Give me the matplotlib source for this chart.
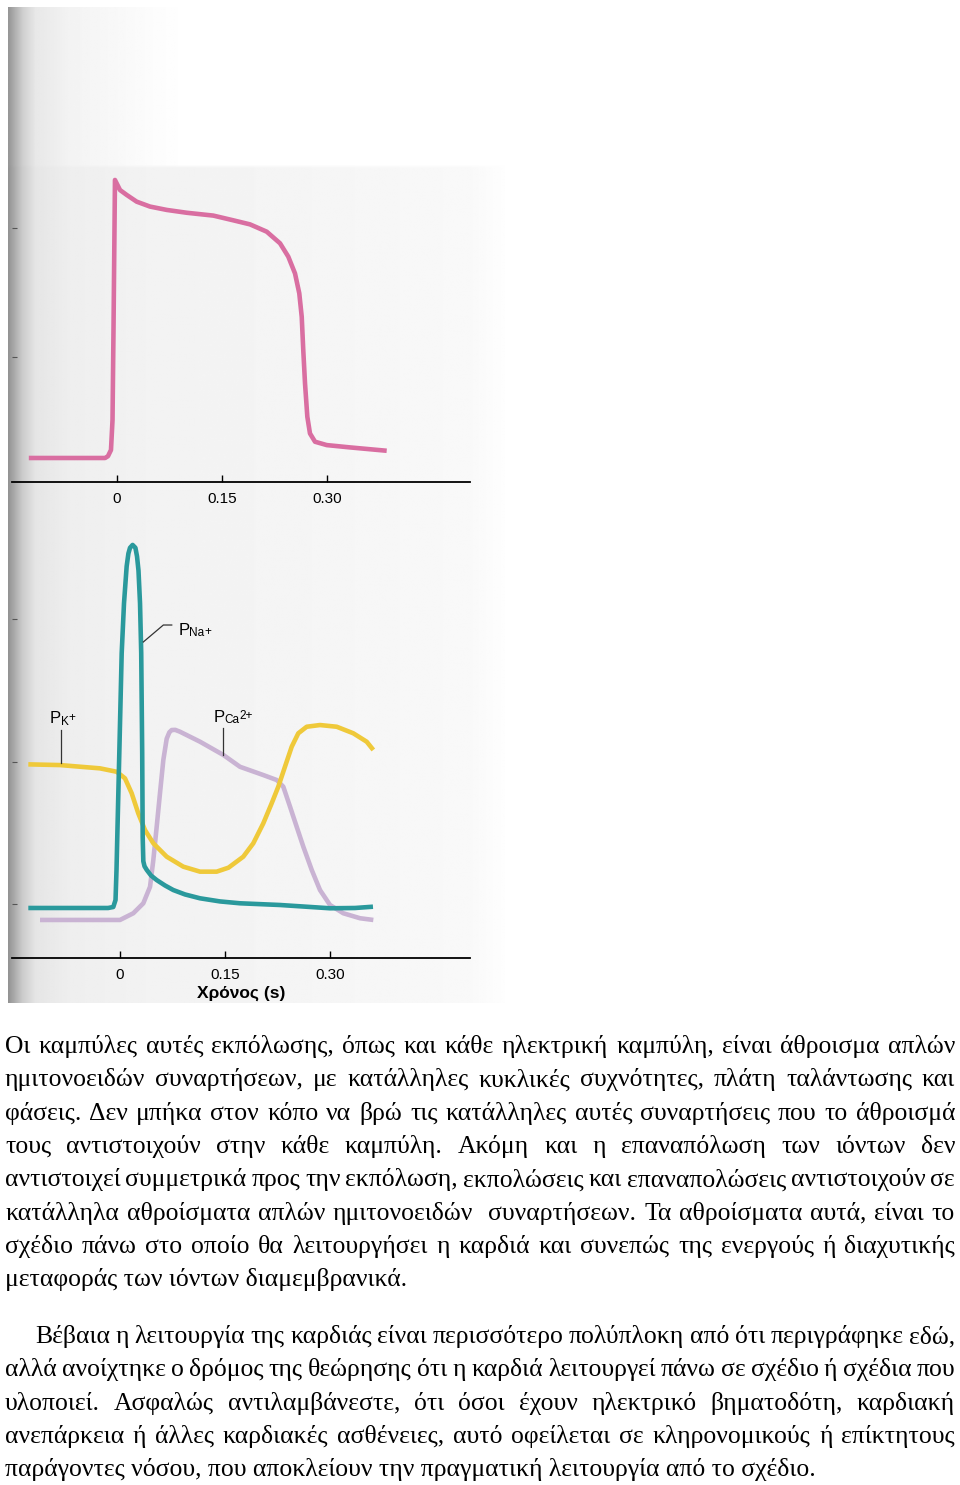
import numpy as np
import matplotlib
matplotlib.use('Agg')
import matplotlib.pyplot as plt

plt.rcParams['font.family'] = ['Liberation Sans', 'DejaVu Sans']

# action potential (top), time in s, membrane potential in mV
t_ap = [-0.126, -0.017, -0.0129, -0.0086, -0.0064, -0.005, -0.0036, -0.0029,
        0.0043, 0.0139, 0.0281, 0.0471, 0.071, 0.0996, 0.1376, 0.1657, 0.19,
        0.2139, 0.2329, 0.2447, 0.2543, 0.2604, 0.2639, 0.2661, 0.2686,
        0.2719, 0.2757, 0.2829, 0.2996, 0.3329, 0.3853]
v_ap = [-89.1, -89.1, -88.4, -86.0, -74.4, -39.5, -0.8, 18.6,
        14.7, 12.8, 10.2, 8.3, 7.0, 5.9, 4.8, 3.0, 1.4,
        -1.43, -5.93, -11.1, -17.6, -25.3, -34.4, -47.3, -60.2,
        -73.1, -79.6, -82.8, -84.1, -85.0, -86.3]

# membrane permeabilities (bottom), arbitrary units
t_na = [-0.131, -0.017, -0.0096, -0.0064, -0.005, -0.0039, -0.001, 0.0024,
        0.0057, 0.0095, 0.012, 0.0143, 0.018, 0.022, 0.0243, 0.0264, 0.0286,
        0.0303, 0.0317, 0.0324, 0.0333, 0.035, 0.0381, 0.0443, 0.0524,
        0.0643, 0.0761, 0.0929, 0.1143, 0.1429, 0.1714, 0.2286, 0.30,
        0.3357, 0.3614]
p_na = [-0.028, -0.028, -0.021, 0.028, 0.24, 0.47, 1.06, 1.76,
        2.11, 2.37, 2.46, 2.50, 2.52, 2.50, 2.44, 2.34, 2.11,
        1.76, 1.06, 0.47, 0.30, 0.265, 0.24, 0.20, 0.168,
        0.13, 0.098, 0.067, 0.04, 0.018, 0.005, -0.007, -0.030,
        -0.028, -0.019]

t_k = [-0.131, -0.0857, -0.0286, -0.0047, 0.0071, 0.0167, 0.0261, 0.0357,
       0.0476, 0.0667, 0.0904, 0.1143, 0.1381, 0.155, 0.1761, 0.1904,
       0.2047, 0.2167, 0.2261, 0.2357, 0.2453, 0.2547, 0.2667, 0.2857,
       0.3096, 0.3333, 0.3524, 0.3619]
p_k = [0.98, 0.975, 0.952, 0.928, 0.882, 0.777, 0.636, 0.519,
       0.426, 0.332, 0.262, 0.227, 0.227, 0.255, 0.332, 0.426,
       0.566, 0.707, 0.823, 0.964, 1.104, 1.198, 1.244, 1.256,
       1.244, 1.198, 1.139, 1.081]

t_ca = [-0.1143, 0.0, 0.019, 0.0333, 0.0429, 0.0476, 0.0524, 0.0571,
        0.0619, 0.0667, 0.0705, 0.0739, 0.079, 0.0857, 0.1143, 0.1476,
        0.1714, 0.2047, 0.2239, 0.2333, 0.2429, 0.2524, 0.2619, 0.2739,
        0.2857, 0.30, 0.319, 0.3429, 0.3619]
p_ca = [-0.112, -0.112, -0.065, 0.005, 0.121, 0.309, 0.542, 0.777,
        1.011, 1.16, 1.205, 1.221, 1.222, 1.209, 1.139, 1.046,
        0.963, 0.905, 0.870, 0.823, 0.683, 0.542, 0.402, 0.239,
        0.098, -0.007, -0.065, -0.100, -0.112]

x_ticks = [0, 0.15, 0.30]
x_ticklabels = ['0', '0.15', '0.30']
ap_yticks = [0, -50]
perm_yticks = [0, 1, 2]

para1 = [
    "Οι καμπύλες αυτές εκπόλωσης, όπως και κάθε ηλεκτρική καμπύλη, είναι άθροισμα απλών",
    "ημιτονοειδών συναρτήσεων, με κατάλληλες κυκλικές συχνότητες, πλάτη ταλάντωσης και",
    "φάσεις. Δεν μπήκα στον κόπο να βρώ τις κατάλληλες αυτές συναρτήσεις που το άθροισμά",
    "τους αντιστοιχούν στην κάθε καμπύλη. Ακόμη και η επαναπόλωση των ιόντων δεν",
    "αντιστοιχεί συμμετρικά προς την εκπόλωση, εκπολώσεις και επαναπολώσεις αντιστοιχούν σε",
    "κατάλληλα αθροίσματα απλών ημιτονοειδών  συναρτήσεων. Τα αθροίσματα αυτά, είναι το",
    "σχέδιο πάνω στο οποίο θα λειτουργήσει η καρδιά και συνεπώς της ενεργούς ή διαχυτικής",
    "μεταφοράς των ιόντων διαμεμβρανικά.",
]
para2 = [
    "Βέβαια η λειτουργία της καρδιάς είναι περισσότερο πολύπλοκη από ότι περιγράφηκε εδώ,",
    "αλλά ανοίχτηκε ο δρόμος της θεώρησης ότι η καρδιά λειτουργεί πάνω σε σχέδιο ή σχέδια που",
    "υλοποιεί. Ασφαλώς αντιλαμβάνεστε, ότι όσοι έχουν ηλεκτρικό βηματοδότη, καρδιακή",
    "ανεπάρκεια ή άλλες καρδιακές ασθένειες, αυτό οφείλεται σε κληρονομικούς ή επίκτητους",
    "παράγοντες νόσου, που αποκλείουν την πραγματική λειτουργία από το σχέδιο.",
]

W, H = 960, 1485
fig = plt.figure(figsize=(9.6, 14.85), dpi=100)
fig.patch.set_facecolor('white')


def fx(px):
    return px / W


def fy(py):
    return 1 - py / H


# scanned page background (grey gutter on the left)
bg = fig.add_axes([0, 0, 1, 1], zorder=-5)
bg.set_xlim(0, W)
bg.set_ylim(H, 0)
bg.axis('off')
xs = np.linspace(8, 505, 300)
ys = np.linspace(7, 1003, 300)
prof = np.interp(xs, [8, 13, 22, 35, 70, 150, 300, 470, 505],
                 [0.58, 0.66, 0.80, 0.90, 0.935, 0.95, 0.96, 0.975, 0.995])
img = np.tile(prof, (len(ys), 1))
top_band = ys < 165
img[top_band] = np.minimum(1.0, img[top_band] + np.clip((xs - 40) / 200, 0, 1) * 0.05 + 0.01)
bg.imshow(img, cmap='gray', vmin=0, vmax=1, extent=(8, 505, 1003, 7),
          aspect='auto', interpolation='bilinear')


def style_axes(ax, yticks):
    ax.set_facecolor('none')
    for s in ['top', 'right', 'left']:
        ax.spines[s].set_visible(False)
    ax.spines['bottom'].set_linewidth(1.3)
    ax.set_xticks(x_ticks)
    ax.set_xticklabels(x_ticklabels)
    ax.tick_params(axis='x', direction='in', length=5, width=1, pad=7,
                   labelsize=11, colors='black')
    ax.set_yticks(yticks)
    ax.set_yticklabels([])
    ax.tick_params(axis='y', direction='in', length=3.5, width=0.8,
                   colors='#555555')


def ion_label(ax, t, u, sub, sup, rise):
    p = ax.text(t, u, 'P', fontsize=12, va='baseline', ha='left')
    s = ax.annotate(sub, xy=(1, 0), xycoords=p, xytext=(-0.3, -1),
                    textcoords='offset points', fontsize=8.5,
                    va='bottom', ha='left')
    ax.annotate(sup, xy=(1, 0), xycoords=s, xytext=(0.2, rise),
                textcoords='offset points', fontsize=8.5,
                va='bottom', ha='left')


lw = 3.3

# top panel: action potential
ax1 = fig.add_axes([fx(12), fy(482), fx(470) - fx(12), fy(165) - fy(482)])
ax1.plot(t_ap, v_ap, color='#d96ea1', lw=lw, solid_joinstyle='round',
         solid_capstyle='butt')
ax1.set_xlim(-0.15, 0.5043)
ax1.set_ylim(-98.4, 24.4)
style_axes(ax1, ap_yticks)

# bottom panel: permeabilities
ax2 = fig.add_axes([fx(12), fy(958), fx(470) - fx(12), fy(520) - fy(958)])
ax2.plot(t_ca, p_ca, color='#c9b3d3', lw=lw, solid_joinstyle='round',
         solid_capstyle='butt')
ax2.plot(t_k, p_k, color='#efc93a', lw=lw, solid_joinstyle='round',
         solid_capstyle='butt')
ax2.plot(t_na, p_na, color='#2a999c', lw=lw, solid_joinstyle='round',
         solid_capstyle='butt')
ax2.set_xlim(-0.1543, 0.5)
ax2.set_ylim(-0.379, 2.695)
style_axes(ax2, perm_yticks)
ax2.set_xlabel('Χρόνος (s)', fontsize=12.5, fontweight='bold', labelpad=3)

# curve labels with leader lines
lead = dict(color='#333333', lw=0.9)
ax2.plot([0.0333, 0.0619, 0.0739], [1.839, 1.958, 1.958], **lead)
ion_label(ax2, 0.0833, 1.888, 'Na', '+', 1.0)
ax2.plot([-0.0843, -0.0843], [1.221, 0.989], **lead)
ion_label(ax2, -0.100, 1.268, 'K', '+', 2.5)
ax2.plot([0.1476, 0.1476], [1.235, 1.046], **lead)
ion_label(ax2, 0.1333, 1.279, 'Ca', '2+', 3.0)

# body text below the figure, justified like the page
renderer = fig.canvas.get_renderer()
serif = ['Liberation Serif', 'DejaVu Serif']
probe = fig.text(0, 0, para2[-1], fontsize=10, family=serif)
body_fs = 10 * 805 / probe.get_window_extent(renderer).width
probe.remove()


def put_line(line, x0, x1, y_base, justify):
    if not justify:
        fig.text(fx(x0), fy(y_base), line, fontsize=body_fs, family=serif,
                 va='baseline', ha='left')
        return
    words = line.split(' ')
    texts = [fig.text(0, fy(y_base), w, fontsize=body_fs, family=serif,
                      va='baseline', ha='left') for w in words]
    widths = [t.get_window_extent(renderer).width if w else 0
              for t, w in zip(texts, words)]
    gap = (x1 - x0 - sum(widths)) / max(len(words) - 1, 1)
    gap = max(gap, 2)
    x = x0
    for t, w in zip(texts, widths):
        t.set_x(fx(x))
        x += w + gap


line_h = 33.35
for i, line in enumerate(para1):
    put_line(line, 5, 955, 1053 + i * line_h, i < len(para1) - 1)
for i, line in enumerate(para2):
    x0 = 35 if i == 0 else 5
    put_line(line, x0, 955, 1343 + i * line_h, i < len(para2) - 1)

fig.savefig('out.png', dpi=100)
